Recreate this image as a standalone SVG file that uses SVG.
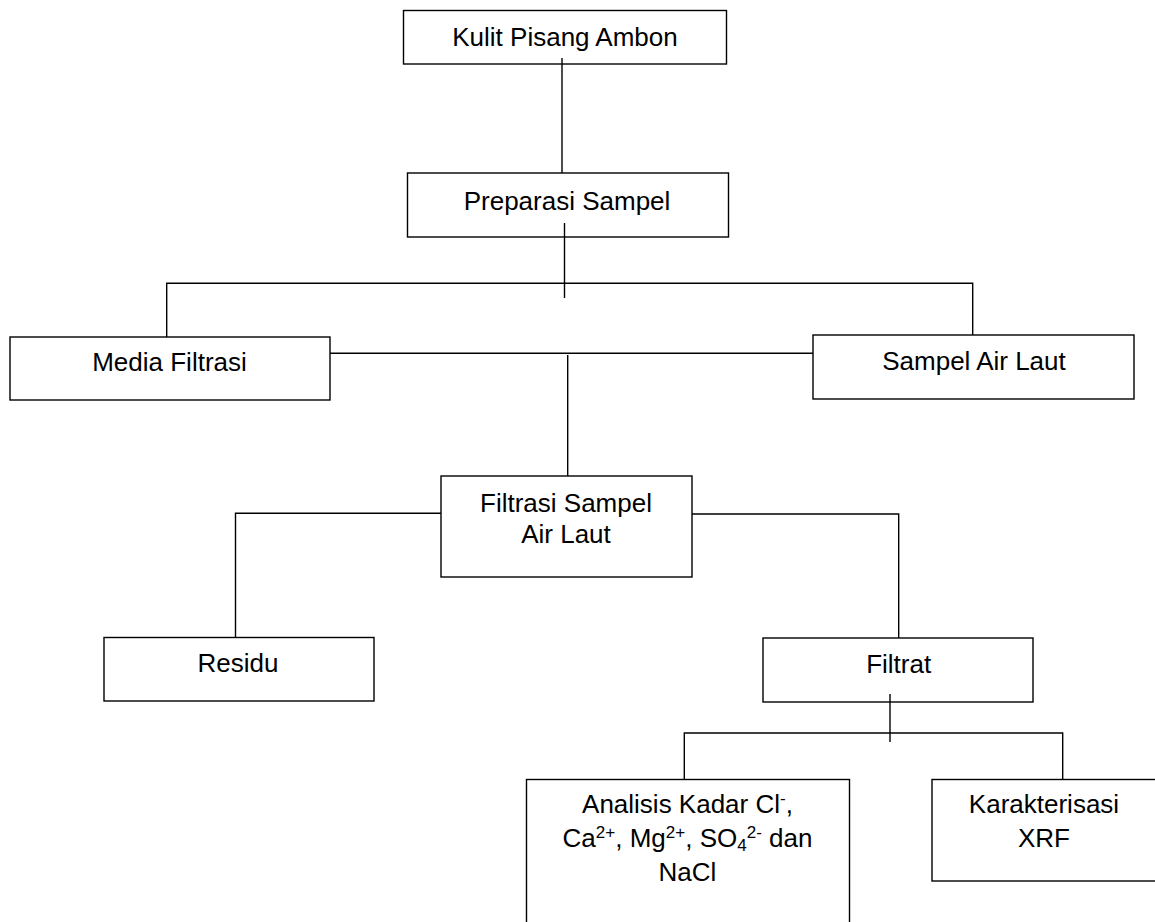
<svg xmlns="http://www.w3.org/2000/svg" width="1155" height="922" viewBox="0 0 1155 922">
<style>
.box{fill:#fff;stroke:#000;stroke-width:1.4}
.con{fill:none;stroke:#000;stroke-width:1.4}
.t{font-family:"Liberation Sans",Arial,sans-serif;font-size:26px;fill:#000;text-anchor:middle}
.s{font-size:17px}
</style>
<rect width="1155" height="922" fill="#fff"/>
<g id="node-kulit">
<rect class="box" x="403.5" y="10.5" width="323" height="53.5"/>
<text class="t" x="565" y="46">Kulit Pisang Ambon</text>
</g>
<g id="node-preparasi">
<rect class="box" x="407.5" y="173" width="321" height="64"/>
<text class="t" x="567" y="210">Preparasi Sampel</text>
</g>
<g id="node-media">
<rect class="box" x="10" y="337" width="320" height="63"/>
<text class="t" x="169.5" y="370.7">Media Filtrasi</text>
</g>
<g id="node-sampel">
<rect class="box" x="813" y="335" width="321" height="64"/>
<text class="t" x="974" y="370">Sampel Air Laut</text>
</g>
<g id="node-filtrasi">
<rect class="box" x="441" y="476" width="251" height="101"/>
<text class="t" x="566" y="511.7">Filtrasi Sampel</text>
<text class="t" x="566" y="543.3">Air Laut</text>
</g>
<g id="node-residu">
<rect class="box" x="104" y="637.5" width="270" height="63.5"/>
<text class="t" x="238" y="671.7">Residu</text>
</g>
<g id="node-filtrat">
<rect class="box" x="763" y="638" width="270" height="64"/>
<text class="t" x="898.7" y="672.7">Filtrat</text>
</g>
<g id="node-analisis">
<rect class="box" x="526.5" y="779.5" width="323" height="160"/>
<text class="t" x="687.5" y="813.3">Analisis Kadar Cl<tspan class="s" dy="-9">-</tspan><tspan dy="9">,</tspan></text>
<text class="t" x="687.5" y="847.3">Ca<tspan class="s" dy="-9">2+</tspan><tspan dy="9">, Mg</tspan><tspan class="s" dy="-9">2+</tspan><tspan dy="9">, SO</tspan><tspan class="s" dy="4">4</tspan><tspan class="s" dy="-13">2-</tspan><tspan dy="9"> dan</tspan></text>
<text class="t" x="687.5" y="881.3">NaCl</text>
</g>
<g id="node-karakterisasi">
<rect class="box" x="932" y="779.5" width="240" height="101.5"/>
<text class="t" x="1044" y="813.3">Karakterisasi</text>
<text class="t" x="1044" y="846.7">XRF</text>
</g>
<g id="connectors">
<path class="con" d="M562 58 V173"/>
<path class="con" d="M564.5 223 V298"/>
<path class="con" d="M166.7 337 V283.3 H972.7 V335"/>
<path class="con" d="M330 353.3 H813"/>
<path class="con" d="M567.7 355 V476"/>
<path class="con" d="M441 513.3 H235.5 V637.5"/>
<path class="con" d="M692 514 H898.7 V638"/>
<path class="con" d="M890 694 V742"/>
<path class="con" d="M684.3 779.5 V733 H1062.7 V779.5"/>
</g>
</svg>
